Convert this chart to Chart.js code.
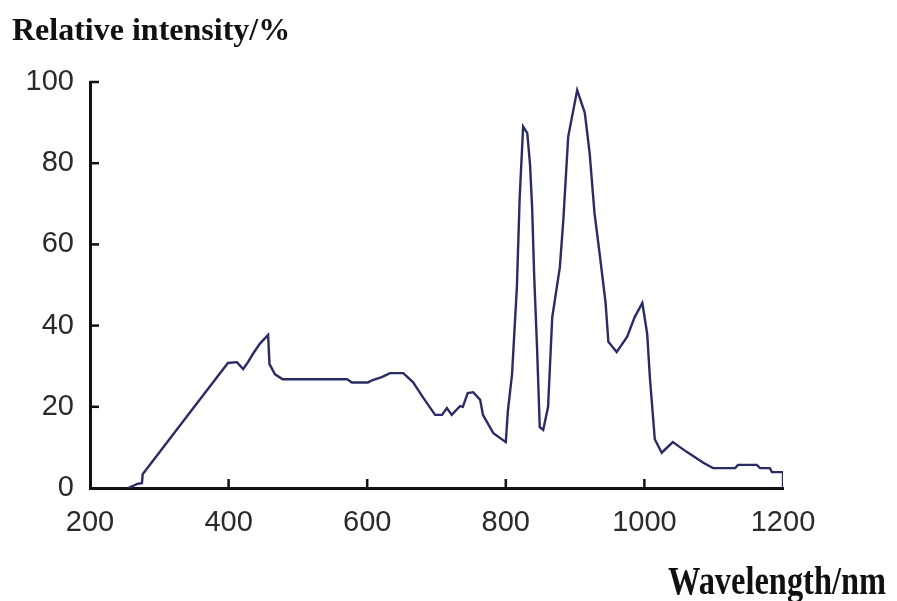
<!DOCTYPE html>
<html><head><meta charset="utf-8">
<script src="https://cdn.jsdelivr.net/npm/chart.js@4/dist/chart.umd.min.js"></script>
<style>html,body{margin:0;padding:0;background:#fff}#wrap{width:897px;height:601px}</style>
</head><body><div id="wrap"><canvas id="c" width="897" height="601"></canvas></div>
<script>
const wavelengths = [255,262,268,275,276,327,399,412,421,428,435,445,457,459,467,478,571,578,601,608,621,633,652,666,681,698,708,715,722,734,738,745,753,763,767,782,800,803,809,816,820,825,831,835,838,841,845,849,854,861,867,878,883,890,903,914,921,928,936,944,948,960,975,986,997,1004,1008,1015,1025,1041,1061,1085,1099,1131,1135,1162,1167,1181,1184,1200,1200];
const intensities = [0,0.5,1,1.2,3.4,14.8,30.8,31,29.3,31,33,35.5,37.7,30.5,28,26.8,26.8,26,26,26.6,27.3,28.3,28.3,26.1,22.2,18,18,19.7,18,20.2,20,23.4,23.6,21.7,18,13.5,11.3,19,28,49.5,71.4,89,87.4,79.6,69,52,35,15,14.3,20,42,54.4,66,86.5,98,92.4,82.5,67.7,56.9,45.6,36,33.5,37.2,42.1,45.6,38,27,12,8.7,11.3,8.9,6.2,4.9,4.9,5.7,5.7,4.9,4.9,3.9,3.9,0];
const xTickValues = [200,400,600,800,1000,1200];
const yTickValues = [0,20,40,60,80,100];
const yTitle = 'Relative intensity/%';
const xTitle = 'Wavelength/nm';

const tickFont = {family:'"Liberation Sans Narrow","Liberation Sans",sans-serif', size:29};

const decor = {
  id:'decor',
  afterDraw(chart){
    const {ctx, scales:{x,y}, chartArea:a} = chart;
    ctx.save();
    ctx.strokeStyle = '#111';
    ctx.lineWidth = 2.5;
    xTickValues.slice(1,-1).forEach(v=>{
      const px = x.getPixelForValue(v);
      ctx.beginPath(); ctx.moveTo(px,a.bottom); ctx.lineTo(px,a.bottom-9); ctx.stroke();
    });
    yTickValues.slice(1).forEach(v=>{
      const py = y.getPixelForValue(v);
      ctx.beginPath(); ctx.moveTo(a.left,py); ctx.lineTo(a.left+9,py); ctx.stroke();
    });
    ctx.fillStyle = '#111';
    ctx.textBaseline = 'alphabetic';
    ctx.font = 'bold 32px "Liberation Serif","Times New Roman",serif';
    ctx.textAlign = 'left';
    ctx.fillText(yTitle, 12, 40, 283);
    ctx.font = 'bold 40px "Liberation Serif","Times New Roman",serif';
    ctx.textAlign = 'right';
    ctx.fillText(xTitle, 886, 594, 218);
    ctx.restore();
  }
};

new Chart(document.getElementById('c'), {
  type:'line',
  data:{
    datasets:[{
      data: wavelengths.map((w,i)=>({x:w, y:intensities[i]})),
      borderColor:'#2a2c66',
      borderWidth:2.4,
      pointRadius:0,
      tension:0,
      fill:false
    }]
  },
  options:{
    responsive:false,
    animation:false,
    layout:{padding:{top:82,right:114,bottom:0,left:0}},
    plugins:{legend:{display:false},tooltip:{enabled:false},title:{display:false}},
    scales:{
      x:{
        type:'linear', min:200, max:1200,
        afterBuildTicks(s){ s.ticks = xTickValues.map(v=>({value:v})); },
        afterFit(s){ s.height = 113; },
        grid:{display:false, drawTicks:false},
        border:{display:true, color:'#111', width:3},
        ticks:{font:tickFont, color:'#2a2a2a', padding:18, maxRotation:0, autoSkip:false, callback:v=>String(v)}
      },
      y:{
        type:'linear', min:0, max:100,
        afterBuildTicks(s){ s.ticks = yTickValues.map(v=>({value:v})); },
        afterFit(s){ s.width = 90; },
        grid:{display:false, drawTicks:false},
        border:{display:true, color:'#111', width:3},
        ticks:{font:tickFont, color:'#2a2a2a', padding:16, autoSkip:false, callback:v=>String(v)}
      }
    }
  },
  plugins:[decor]
});
</script>
</body></html>
